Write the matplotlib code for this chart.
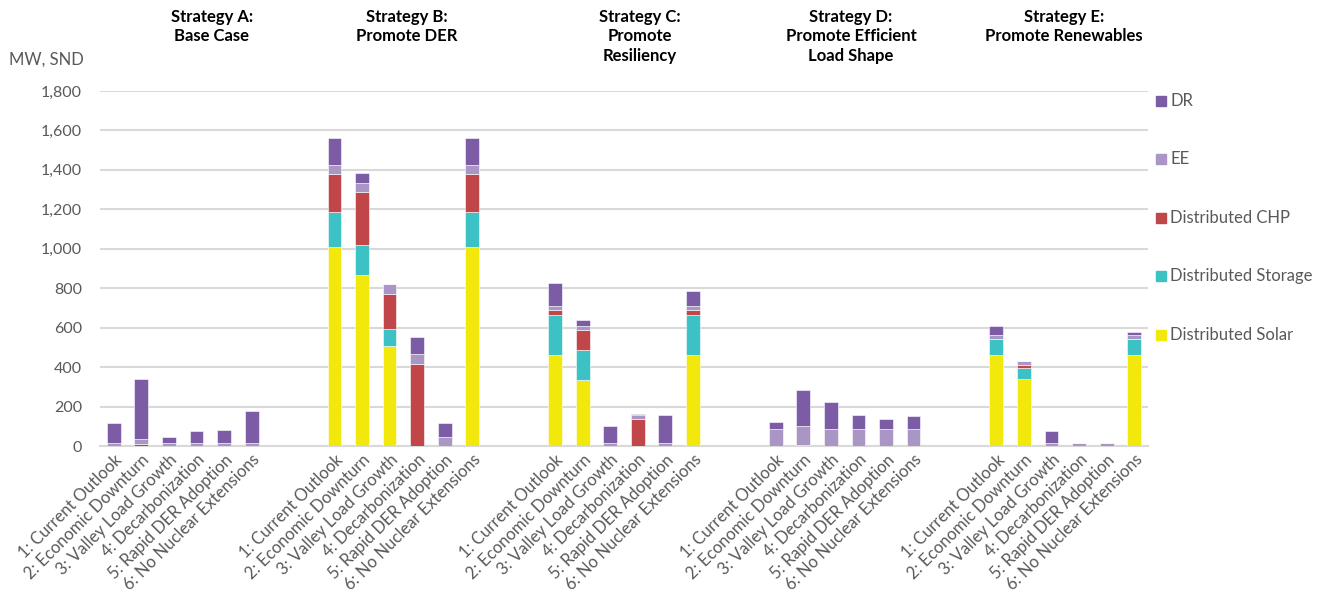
import matplotlib
matplotlib.use("Agg")
import matplotlib.pyplot as plt
import numpy as np

plt.rcParams['font.family'] = ['Lato', 'DejaVu Sans']

strategies = ["Strategy A:\nBase Case", "Strategy B:\nPromote DER", "Strategy C:\nPromote\nResiliency",
              "Strategy D:\nPromote Efficient\nLoad Shape", "Strategy E:\nPromote Renewables"]
scenarios = ["1: Current Outlook", "2: Economic Downturn", "3: Valley Load Growth",
             "4: Decarbonization", "5: Rapid DER Adoption", "6: No Nuclear Extensions"]

# values per strategy (A..E), 6 scenarios each, MW
solar = [0, 0, 0, 0, 0, 0,
         1011, 867, 505, 0, 0, 1011,
         460, 337, 0, 0, 0, 460,
         0, 0, 0, 0, 0, 0,
         461, 340, 0, 0, 0, 461]
storage = [0, 0, 0, 0, 0, 0,
           177, 152, 90, 0, 0, 177,
           204, 148, 0, 0, 0, 204,
           0, 0, 0, 0, 0, 0,
           83, 57, 0, 0, 0, 83]
chp = [0, 8, 0, 0, 0, 0,
       190, 267, 176, 414, 0, 190,
       25, 103, 0, 137, 0, 25,
       0, 5, 0, 0, 0, 0,
       0, 15, 0, 0, 0, 0]
ee = [17, 25, 17, 17, 17, 17,
      49, 49, 50, 54, 46, 49,
      19, 19, 17, 20, 17, 19,
      85, 95, 85, 85, 85, 85,
      19, 21, 17, 15, 15, 17]
dr = [102, 305, 29, 58, 63, 159,
      135, 51, 0, 85, 71, 135,
      116, 33, 84, 5, 140, 76,
      35, 186, 139, 71, 51, 69,
      45, 0, 59, 0, 0, 15]

series = [("Distributed Solar", solar, "#F2E80C"),
          ("Distributed Storage", storage, "#3CC1C4"),
          ("Distributed CHP", chp, "#C0464A"),
          ("EE", ee, "#A996C4"),
          ("DR", dr, "#7B5CA5")]

W, H = 1332, 606
fig = plt.figure(figsize=(W / 100, H / 100), dpi=100)
ax = fig.add_axes([100 / W, 1 - 446 / H, 1048 / W, (446 - 91) / H])

n_s = len(scenarios)
gap = 2
x = np.array([g * (n_s + gap) + i for g in range(len(strategies)) for i in range(n_s)], dtype=float)
labels = scenarios * len(strategies)

bottom = np.zeros(len(x))
for name, vals, col in series:
    v = np.array(vals, dtype=float)
    ax.bar(x, v, width=0.5, bottom=bottom, color=col, edgecolor="white", linewidth=0.4, zorder=3)
    bottom += v

ax.set_xlim(-0.5, x[-1] + 0.5)
ax.set_ylim(0, 1800)
ax.set_yticks(np.arange(0, 1801, 200))
ax.set_yticklabels([f"{int(t):,}" for t in np.arange(0, 1801, 200)], fontsize=11.5, color="#595959")
ax.yaxis.grid(True, color="#D9D9D9", linewidth=1.5, zorder=0)
ax.tick_params(axis="y", length=0, pad=13)
ax.tick_params(axis="x", length=0, pad=4)
ax.set_xticks(x)
ax.set_xticklabels(labels, rotation=45, ha="right", rotation_mode="anchor", fontsize=12, color="#595959")
for s in ["top", "right", "left"]:
    ax.spines[s].set_visible(False)
ax.spines["bottom"].set_color("#D9D9D9")
ax.spines["bottom"].set_linewidth(1.5)

fig.text(9 / W, 1 - 60 / H, "MW, SND", fontsize=12, color="#595959", ha="left", va="center")

title_x = [212, 407, 640, 851, 1064]
for tx, t in zip(title_x, strategies):
    fig.text(tx / W, 1 - 9 / H, t, fontsize=12, fontweight="bold", ha="center", va="top",
             color="black", linespacing=1.25)

order = ["DR", "EE", "Distributed CHP", "Distributed Storage", "Distributed Solar"]
leg_y = [101, 159, 218, 276, 335]
colors = {n: c for n, _, c in series}
for name, ly in zip(order, leg_y):
    fig.patches.append(plt.Rectangle((1156 / W, 1 - (ly + 5) / H), 10 / W, 10 / H,
                                     transform=fig.transFigure, color=colors[name], figure=fig))
    fig.text(1170 / W, 1 - ly / H, name, fontsize=12, color="#595959", ha="left", va="center")

fig.savefig("out.png", dpi=100)
